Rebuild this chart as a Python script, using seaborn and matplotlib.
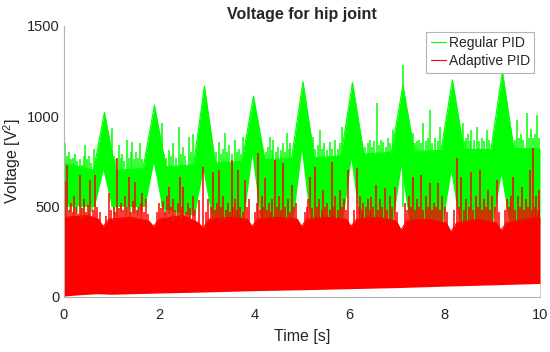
import numpy as np
import matplotlib
matplotlib.use("Agg")
import matplotlib.pyplot as plt
import seaborn as sns

# ------------------------------
# Data (time in s, voltage in V^2)
# ------------------------------

# Regular PID: solid band envelope (upper / lower)
green_hi_t = [0, 0.62, 0.85, 1.08, 1.66, 1.9, 2.14, 2.72, 2.95, 3.18, 3.74, 3.98, 4.22,
              4.78, 5.02, 5.26, 5.82, 6.06, 6.3, 6.88, 7.12, 7.36, 7.92, 8.16, 8.4,
              8.97, 9.21, 9.45, 10]
green_hi_v = [740, 700, 1020, 700, 710, 1060, 720, 730, 1165, 740, 750, 1110, 760,
              765, 1190, 770, 780, 1185, 790, 800, 1170, 805, 810, 1200, 815,
              815, 1245, 820, 820]
green_lo_t = [0, 0.64, 0.82, 1.0, 1.7, 1.88, 2.06, 2.74, 2.92, 3.1, 3.77, 3.95, 4.13,
              4.81, 4.99, 5.17, 5.85, 6.03, 6.21, 6.9, 7.08, 7.26, 7.95, 8.13, 8.31,
              9.0, 9.18, 9.36, 10]
green_lo_v = [510, 500, 700, 500, 500, 740, 490, 450, 700, 440, 420, 785, 420,
              420, 810, 420, 410, 760, 410, 400, 720, 400, 400, 690, 400,
              400, 675, 400, 400]

# Regular PID: spikes above the band
green_spk_t = [0.02, 0.06, 0.1, 0.14, 0.18, 0.21, 0.24, 0.28, 0.33, 0.37, 0.41, 0.45,
               0.49, 0.53, 0.57, 0.62, 0.66,
               1.01, 1.05, 1.1, 1.15, 1.19, 1.22, 1.27, 1.32, 1.36, 1.4, 1.43, 1.47,
               1.52, 1.56, 1.6, 1.64,
               2.06, 2.1, 2.15, 2.2, 2.25, 2.3, 2.35, 2.41, 2.45, 2.5, 2.55, 2.62,
               2.66, 2.72,
               3.2, 3.25, 3.3, 3.34, 3.38, 3.42, 3.47, 3.52, 3.59, 3.63, 3.68, 3.72,
               3.77,
               4.24, 4.28, 4.33, 4.37, 4.4, 4.45, 4.5, 4.55, 4.6, 4.64, 4.68, 4.72,
               4.75,
               5.24, 5.28, 5.33, 5.38, 5.42, 5.47, 5.52, 5.59, 5.64, 5.7, 5.75, 5.8,
               5.83,
               6.33, 6.38, 6.43, 6.47, 6.52, 6.57, 6.62, 6.66, 6.71, 6.76, 6.8, 6.85,
               6.92,
               7.12, 7.34, 7.38, 7.42, 7.45, 7.5, 7.55, 7.6, 7.65, 7.69, 7.74, 7.8,
               7.85, 7.9,
               8.39, 8.42, 8.45, 8.48, 8.52, 8.56, 8.61, 8.67, 8.72, 8.78, 8.83, 8.88,
               8.93,
               9.47, 9.51, 9.55, 9.6, 9.65, 9.72, 9.76, 9.82, 9.86, 9.9, 9.93, 9.97]
green_spk_v = [850, 780, 801, 760, 770, 740, 790, 750, 760, 730, 780, 840,
               760, 780, 740, 820, 750,
               933, 780, 760, 840, 770, 790, 750, 867, 770, 800, 858, 760,
               800, 770, 849, 760,
               961, 790, 770, 810, 780, 850, 770, 940, 790, 830, 780, 884,
               800, 903,
               800, 858, 790, 820, 906, 800, 840, 790, 870, 800, 820, 790,
               884,
               800, 830, 884, 810, 866, 800, 830, 810, 850, 800, 906, 820,
               849,
               884, 820, 840, 922, 820, 850, 810, 858, 820, 870, 820, 850,
               940,
               830, 850, 866, 830, 860, 1070, 840, 870, 858, 830, 880, 850,
               922,
               1280, 906, 850, 860, 870, 850, 961, 860, 880, 1033, 850, 880,
               860, 940,
               961, 860, 880, 900, 860, 922, 870, 940, 860, 880, 860, 922,
               870,
               870, 978, 880, 900, 870, 1015, 880, 930, 880, 900, 1006, 880]

# Regular PID: dips below the band (left part, where white gaps show)
green_dn_t = [0.05, 0.12, 0.2, 0.27, 0.35, 0.43, 0.52, 0.58, 1.05, 1.12, 1.2, 1.3,
              1.38, 1.47, 1.55, 1.62, 2.12, 2.2, 2.28, 2.38, 2.46, 2.55, 2.62, 3.2,
              3.28, 3.35]
green_dn_v = [450, 470, 440, 460, 430, 455, 445, 470, 460, 440, 470, 450,
              430, 460, 445, 470, 440, 460, 420, 450, 430, 445, 420, 430,
              415, 425]

# Adaptive PID: solid band envelope (upper / lower)
red_hi_t = [0, 0.02, 0.5, 0.72, 0.82, 0.95, 1.4, 1.78, 1.88, 2.0, 2.5, 2.82, 2.92,
            3.05, 3.5, 3.85, 3.95, 4.07, 4.5, 4.9, 4.99, 5.1, 5.5, 5.93, 6.03, 6.15,
            6.6, 6.98, 7.08, 7.2, 7.6, 8.03, 8.13, 8.25, 8.7, 9.08, 9.18, 9.3, 9.7, 10]
red_hi_v = [600, 440, 450, 430, 390, 430, 440, 420, 390, 430, 450, 410, 380,
            430, 440, 430, 390, 430, 440, 430, 390, 430, 440, 430, 390, 430,
            440, 420, 370, 420, 430, 410, 360, 410, 430, 410, 370, 410, 430, 440]
red_lo_t = [0, 0.3, 0.7, 1.0, 2, 3, 4, 5, 6, 7, 8, 9, 10]
red_lo_v = [5, 12, 18, 15, 22, 28, 35, 40, 46, 52, 60, 67, 75]

# Adaptive PID: spikes above the band
red_spk_t = [0.03, 0.06, 0.1, 0.14, 0.18, 0.22, 0.26, 0.3, 0.34, 0.38, 0.42, 0.46,
             0.5, 0.55, 0.6, 0.66, 0.7, 0.76, 0.88, 0.94, 0.98,
             1.04, 1.08, 1.11, 1.16, 1.2, 1.24, 1.28, 1.32, 1.36, 1.4, 1.45, 1.5,
             1.54, 1.57, 1.61, 1.64, 1.68, 1.72, 1.76, 1.95, 1.99,
             2.04, 2.08, 2.12, 2.16, 2.2, 2.25, 2.3, 2.34, 2.39, 2.44, 2.48, 2.51,
             2.56, 2.6, 2.65, 2.7, 2.75, 2.83, 2.93, 2.98,
             3.03, 3.08, 3.14, 3.18, 3.22, 3.25, 3.3, 3.35, 3.4, 3.44, 3.48, 3.52,
             3.56, 3.59, 3.63, 3.66, 3.7, 3.75, 3.8, 3.84, 3.88, 4.02,
             4.05, 4.08, 4.12, 4.15, 4.19, 4.22, 4.26, 4.3, 4.34, 4.38, 4.43, 4.47,
             4.52, 4.56, 4.61, 4.65, 4.7, 4.74, 4.78, 4.83, 4.88, 5.06,
             5.1, 5.13, 5.17, 5.21, 5.27, 5.31, 5.36, 5.41, 5.45, 5.49, 5.53, 5.58,
             5.62, 5.66, 5.7, 5.75, 5.8, 5.84, 5.88, 5.92, 5.97,
             6.1, 6.15, 6.19, 6.22, 6.26, 6.29, 6.34, 6.38, 6.42, 6.46, 6.5, 6.55,
             6.6, 6.64, 6.69, 6.74, 6.79, 6.85, 6.9, 6.95, 7.0,
             7.16, 7.2, 7.25, 7.3, 7.34, 7.38, 7.42, 7.46, 7.51, 7.55, 7.6, 7.65,
             7.69, 7.73, 7.78, 7.82, 7.86, 7.9, 7.95, 8.0, 8.05,
             8.2, 8.25, 8.3, 8.35, 8.4, 8.45, 8.5, 8.56, 8.6, 8.65, 8.7, 8.74,
             8.78, 8.82, 8.87, 8.91, 8.95, 9.0, 9.05, 9.09,
             9.13, 9.26, 9.3, 9.35, 9.4, 9.44, 9.48, 9.53, 9.57, 9.62, 9.66, 9.7,
             9.75, 9.79, 9.83, 9.86, 9.9, 9.92, 9.95, 9.97, 9.99]
red_spk_v = [640, 729, 480, 520, 470, 560, 500, 460, 674, 490, 540, 470,
             510, 646, 480, 674, 500, 470, 450, 575, 480,
             500, 470, 768, 490, 520, 480, 560, 500, 663, 470, 530, 635,
             480, 500, 520, 575, 470, 540, 460, 470, 519,
             490, 530, 470, 560, 608, 500, 540, 480, 520, 663, 500, 608,
             470, 520, 490, 560, 480, 536, 718, 470,
             540, 500, 691, 480, 520, 700, 500, 560, 480, 520, 470, 757,
             500, 540, 480, 702, 500, 470, 646, 500, 540, 470,
             520, 795, 480, 560, 500, 655, 480, 520, 470, 540, 757, 500,
             560, 480, 740, 500, 540, 470, 619, 500, 520, 470,
             500, 540, 663, 490, 718, 500, 540, 480, 591, 500, 520, 480,
             746, 500, 560, 480, 591, 500, 540, 480, 702,
             480, 710, 500, 560, 480, 519, 500, 540, 480, 552, 500, 620,
             480, 540, 500, 602, 480, 560, 500, 608, 470,
             519, 480, 560, 500, 663, 480, 540, 500, 674, 480, 560, 500,
             630, 480, 520, 500, 630, 480, 560, 500, 470,
             480, 768, 500, 663, 480, 540, 500, 691, 480, 560, 500, 700,
             480, 540, 500, 591, 480, 560, 500, 646,
             470, 480, 540, 500, 560, 663, 480, 560, 500, 608, 480, 540,
             500, 700, 480, 823, 500, 560, 480, 591, 520]

x_ticks = [0, 2, 4, 6, 8, 10]
y_ticks = [0, 500, 1000, 1500]

green = "#00ff00"
red = "#ff0000"

# ------------------------------
# Plot
# ------------------------------
sns.set_style("white")
plt.rcParams["font.family"] = ["Liberation Sans", "DejaVu Sans"]
plt.rcParams["mathtext.fontset"] = "custom"
plt.rcParams["mathtext.rm"] = "Liberation Sans"

fig = plt.figure(figsize=(5.5, 3.52), dpi=100)
ax = fig.add_axes([64 / 550, 1 - 297 / 352, 476 / 550, 271.5 / 352])

# Regular PID
sns.lineplot(x=green_hi_t, y=green_hi_v, color=green, lw=0.8, label="Regular PID",
             estimator=None, sort=False, ax=ax)
ax.fill_between(green_hi_t, green_hi_v, 0, color=green, lw=0)
ax.fill_between(green_lo_t, green_lo_v, 0, color="white", lw=0)
ax.vlines(green_spk_t, 500, green_spk_v, colors=green, lw=1.1)
ax.vlines(green_dn_t, green_dn_v, 520, colors=green, lw=1.1)

# Adaptive PID
sns.lineplot(x=red_hi_t, y=red_hi_v, color=red, lw=0.8, label="Adaptive PID",
             estimator=None, sort=False, ax=ax)
ax.fill_between(red_hi_t, red_hi_v, 0, color=red, lw=0)
ax.fill_between(red_lo_t, red_lo_v, 0, color="white", lw=0)
ax.vlines(red_spk_t, 100, red_spk_v, colors=red, lw=1.1)

ax.set_xlim(0, 10)
ax.set_ylim(0, 1500)
ax.set_xticks(x_ticks)
ax.set_yticks(y_ticks)

for side in ["top", "right"]:
    ax.spines[side].set_visible(False)
for side in ["left", "bottom"]:
    ax.spines[side].set_color("#b4b4b4")
    ax.spines[side].set_linewidth(0.8)
ax.tick_params(direction="in", length=3, width=0.8, color="#b4b4b4",
               labelsize=10.5, labelcolor="#262626")
ax.tick_params(axis="x", pad=8)
ax.tick_params(axis="y", pad=3)

ax.set_title("Voltage for hip joint", fontsize=11.5, fontweight="bold", pad=5)
ax.set_xlabel("Time [s]", fontsize=11.5, color="#262626", labelpad=5)
ax.set_ylabel("Voltage [V$^2$]", fontsize=11.5, color="#262626", labelpad=3)

leg = ax.legend(loc="upper right", bbox_to_anchor=(534 / 550, 1 - 32 / 352),
                bbox_transform=fig.transFigure, borderaxespad=0, fontsize=10,
                fancybox=False, framealpha=1, edgecolor="#b4b4b4",
                handlelength=1.1, handletextpad=0.2, labelspacing=0.3,
                borderpad=0.3)
leg.get_frame().set_linewidth(0.8)

plt.savefig("out.png", dpi=100)
